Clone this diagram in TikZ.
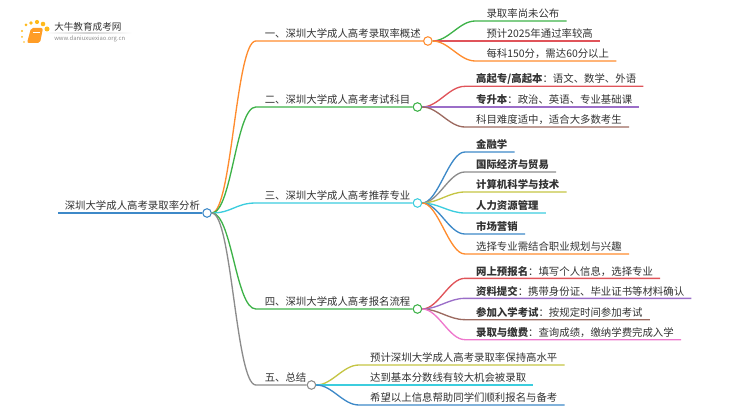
\documentclass[tikz,border=0pt]{standalone}
\usepackage{fontspec}
\setmainfont{Noto Sans CJK SC}
\definecolor{InkGray}{RGB}{50, 50, 50}
\definecolor{LineOrange}{RGB}{255, 140, 46}
\definecolor{LineGreen}{RGB}{61, 178, 72}
\definecolor{LineCyan}{RGB}{60, 205, 222}
\definecolor{LineGray}{RGB}{140, 140, 140}
\definecolor{LineBlue}{RGB}{61, 137, 200}
\definecolor{LineRed}{RGB}{224, 84, 90}
\definecolor{LinePurple}{RGB}{155, 110, 200}
\definecolor{LineBrown}{RGB}{156, 106, 96}
\definecolor{LineOlive}{RGB}{197, 197, 68}
\definecolor{LinePink}{RGB}{238, 120, 205}
\usetikzlibrary{positioning}

\begin{document}
\begin{tikzpicture}[x=0.75pt, y=-0.75pt,
        textbase/.style={text=InkGray, font=\fontsize{7.8pt}{9pt}\selectfont, text height=7pt, text depth=1pt, inner ysep=1.3pt},
        topic/.style={textbase, inner xsep=1.5pt},
        leaf/.style={textbase, inner xsep=5.25pt},
        hub/.style={circle, draw, fill=white, minimum size=6.4pt, inner sep=0pt, line width=0.8pt},
        link/.style={line width=1pt},
        swoop/.style={out=0, in=180, distance=12pt},
        bigswoop/.style={out=0, in=180, distance=15pt}
    ]
        \useasboundingbox (0,0) rectangle (750,410);

        % logo
        \fill[LineOrange!60!yellow] (24,42) circle (0.8) (22,37) circle (1) (22,31) circle (1.2) (26,25) circle (1.5)
            (31,23) circle (1.9) (37,22) circle (2.1) (43,24) circle (2.3) (47,29) circle (2.5);
        \fill[LineOrange!85!yellow, rounded corners=1.5pt] (31,28) -- (43,28) -- (40,43) -- (27,43) -- cycle;
        \draw[white, line width=0.5pt] (33,32) -- (40,32);
        \shade[left color=white, right color=white, middle color=gray!35] (45,33) rectangle (132,33.8);
        \node[text=InkGray, font=\fontsize{7.2pt}{8pt}\selectfont, inner sep=0pt, anchor=west] (logotext) at (54,27) {大牛教育成考网};
        \node[text=LineGray, font=\fontsize{4.4pt}{5pt}\selectfont, inner sep=0pt, anchor=west] (logourl) at (54,38.7) {www.daniuxuexiao.org.cn};

        % root
        \coordinate (rootstart) at (58,213);
        \node[topic, anchor=south west] (root) at (62.5,213) {深圳大学成人高考录取率分析};
        \node[hub, draw=LineBlue, right=0pt of root.south east] (rootdot) {};
        \draw[link, LineBlue] (rootstart) -- (rootdot.west);

        % topics
        \node[topic, above right=129pt and 38pt of rootdot.east] (topicA) {一、深圳大学成人高考录取率概述};
        \node[topic, above right=79.5pt and 38pt of rootdot.east] (topicB) {二、深圳大学成人高考考试科目};
        \node[topic, above right=7.5pt and 38pt of rootdot.east] (topicC) {三、深圳大学成人高考推荐专业};
        \node[topic, above right=-72pt and 38pt of rootdot.east] (topicD) {四、深圳大学成人高考报名流程};
        \node[topic, above right=-129pt and 38pt of rootdot.east] (topicE) {五、总结};

        \node[hub, draw=LineOrange, right=0pt of topicA.south east] (hubA) {};
        \node[hub, draw=LineGreen, right=0pt of topicB.south east] (hubB) {};
        \node[hub, draw=LineCyan, right=0pt of topicC.south east] (hubC) {};
        \node[hub, draw=LineGreen, right=0pt of topicD.south east] (hubD) {};
        \node[hub, draw=LineGray, right=-1.5pt of topicE.south east] (hubE) {};

        \draw[link, LineOrange] (rootdot.east) to[bigswoop] ([xshift=-5pt]topicA.south west) -- (hubA.west);
        \draw[link, LineGreen] (rootdot.east) to[bigswoop] ([xshift=-5pt]topicB.south west) -- (hubB.west);
        \draw[link, LineCyan] (rootdot.east) to[bigswoop] ([xshift=-5pt]topicC.south west) -- (hubC.west);
        \draw[link, LineGreen] (rootdot.east) to[bigswoop] ([xshift=-5pt]topicD.south west) -- (hubD.west);
        \draw[link, LineGray] (rootdot.east) to[bigswoop] ([xshift=-5pt]topicE.south west) -- (hubE.west);

        % leaves of A
        \node[leaf, above right=15pt and 35pt of hubA.east] (leafAa) {录取率尚未公布};
        \node[leaf, above right=0pt and 35pt of hubA.east] (leafAb) {预计2025年通过率较高};
        \node[leaf, above right=-15pt and 35pt of hubA.east] (leafAc) {每科150分，需达60分以上};
        \draw[link, LineGreen] (hubA.east) to[swoop] ([xshift=-3pt]leafAa.south west) -- (leafAa.south east);
        \draw[link, LineRed] (hubA.east) to[swoop] ([xshift=-3pt]leafAb.south west) -- (leafAb.south east);
        \draw[link, LineOrange] (hubA.east) to[swoop] ([xshift=-3pt]leafAc.south west) -- (leafAc.south east);

        % leaves of B
        \node[leaf, above right=15.5pt and 35pt of hubB.east] (leafBa) {\textbf{高起专/高起本}：语文、数学、外语};
        \node[leaf, above right=0pt and 35pt of hubB.east] (leafBb) {\textbf{专升本}：政治、英语、专业基础课};
        \node[leaf, above right=-15pt and 35pt of hubB.east] (leafBc) {科目难度适中，适合大多数考生};
        \draw[link, LineRed] (hubB.east) to[swoop] ([xshift=-3pt]leafBa.south west) -- (leafBa.south east);
        \draw[link, LinePurple] (hubB.east) to[swoop] ([xshift=-3pt]leafBb.south west) -- (leafBb.south east);
        \draw[link, LineBrown] (hubB.east) to[swoop] ([xshift=-3pt]leafBc.south west) -- (leafBc.south east);

        % leaves of C
        \node[leaf, above right=38.25pt and 35pt of hubC.east] (leafCa) {\textbf{金融学}};
        \node[leaf, above right=23.25pt and 35pt of hubC.east] (leafCb) {\textbf{国际经济与贸易}};
        \node[leaf, above right=8.25pt and 35pt of hubC.east] (leafCc) {\textbf{计算机科学与技术}};
        \node[leaf, above right=-7.5pt and 35pt of hubC.east] (leafCd) {\textbf{人力资源管理}};
        \node[leaf, above right=-23.25pt and 35pt of hubC.east] (leafCe) {\textbf{市场营销}};
        \node[leaf, above right=-38.25pt and 35pt of hubC.east] (leafCf) {选择专业需结合职业规划与兴趣};
        \draw[link, LineBlue] (hubC.east) to[swoop] ([xshift=-3pt]leafCa.south west) -- (leafCa.south east);
        \draw[link, LineGray] (hubC.east) to[swoop] ([xshift=-3pt]leafCb.south west) -- (leafCb.south east);
        \draw[link, LineOlive] (hubC.east) to[swoop] ([xshift=-3pt]leafCc.south west) -- (leafCc.south east);
        \draw[link, LineCyan] (hubC.east) to[swoop] ([xshift=-3pt]leafCd.south west) -- (leafCd.south east);
        \draw[link, LineBlue] (hubC.east) to[swoop] ([xshift=-3pt]leafCe.south west) -- (leafCe.south east);
        \draw[link, LineOrange] (hubC.east) to[swoop] ([xshift=-3pt]leafCf.south west) -- (leafCf.south east);

        % leaves of D
        \node[leaf, above right=23pt and 35pt of hubD.east] (leafDa) {\textbf{网上预报名}：填写个人信息，选择专业};
        \node[leaf, above right=8pt and 35pt of hubD.east] (leafDb) {\textbf{资料提交}：携带身份证、毕业证书等材料确认};
        \node[leaf, above right=-8pt and 35pt of hubD.east] (leafDc) {\textbf{参加入学考试}：按规定时间参加考试};
        \node[leaf, above right=-23pt and 35pt of hubD.east] (leafDd) {\textbf{录取与缴费}：查询成绩，缴纳学费完成入学};
        \draw[link, LineRed] (hubD.east) to[swoop] ([xshift=-3pt]leafDa.south west) -- (leafDa.south east);
        \draw[link, LinePurple] (hubD.east) to[swoop] ([xshift=-3pt]leafDb.south west) -- (leafDb.south east);
        \draw[link, LineBrown] (hubD.east) to[swoop] ([xshift=-3pt]leafDc.south west) -- (leafDc.south east);
        \draw[link, LinePink] (hubD.east) to[swoop] ([xshift=-3pt]leafDd.south west) -- (leafDd.south east);

        % leaves of E
        \node[leaf, above right=15pt and 35pt of hubE.east] (leafEa) {预计深圳大学成人高考录取率保持高水平};
        \node[leaf, above right=0pt and 35pt of hubE.east] (leafEb) {达到基本分数线有较大机会被录取};
        \node[leaf, above right=-15pt and 35pt of hubE.east] (leafEc) {希望以上信息帮助同学们顺利报名与备考};
        \draw[link, LineOlive] (hubE.east) to[swoop] ([xshift=-3pt]leafEa.south west) -- (leafEa.south east);
        \draw[link, LineCyan] (hubE.east) to[swoop] ([xshift=-3pt]leafEb.south west) -- (leafEb.south east);
        \draw[link, LineBlue] (hubE.east) to[swoop] ([xshift=-3pt]leafEc.south west) -- (leafEc.south east);
    \end{tikzpicture}
\end{document}
